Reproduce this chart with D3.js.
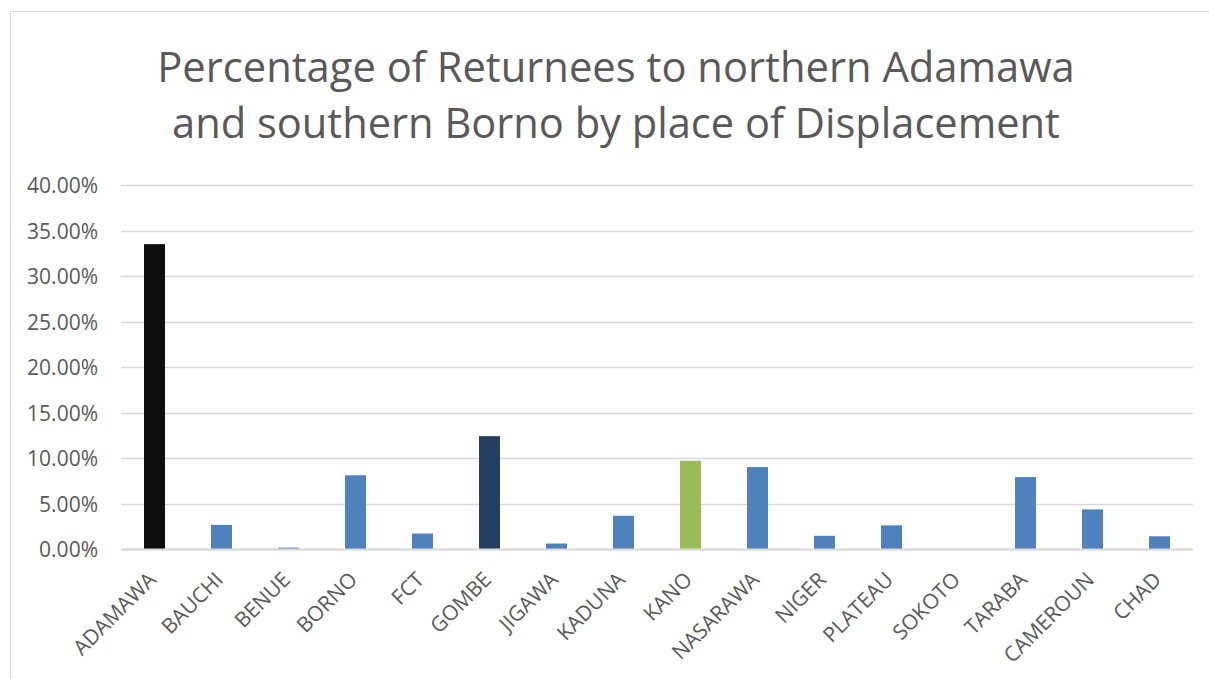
<!DOCTYPE html>
<html>
<head>
<meta charset="utf-8">
<script src="https://cdn.jsdelivr.net/npm/d3@7"></script>
<style>
  body { margin: 0; background: #fff; }
  text { font-family: "Open Sans", "Noto Sans", sans-serif; fill: #595959; }
</style>
</head>
<body>
<div id="chart"></div>
<script>
// data
const states = ["ADAMAWA", "BAUCHI", "BENUE", "BORNO", "FCT", "GOMBE", "JIGAWA", "KADUNA",
  "KANO", "NASARAWA", "NIGER", "PLATEAU", "SOKOTO", "TARABA", "CAMEROUN", "CHAD"];
const shares = [33.5, 2.65, 0.15, 8.1, 1.7, 12.4, 0.6, 3.65, 9.7, 9.0, 1.45, 2.6, 0, 7.9, 4.35, 1.4];
const barColors = ["#0d0d0d", "#4f81bd", "#4f81bd", "#4f81bd", "#4f81bd", "#243f60", "#4f81bd", "#4f81bd",
  "#9bbb59", "#4f81bd", "#4f81bd", "#4f81bd", "#4f81bd", "#4f81bd", "#4f81bd", "#4f81bd"];
const yTicks = [0, 5, 10, 15, 20, 25, 30, 35, 40];
const titleLines = ["Percentage of Returnees to northern Adamawa", "and southern Borno by place of Displacement"];

const W = 1209, H = 679;
const margin = {top: 185, right: 16, bottom: 130, left: 121};
const width = W - margin.left - margin.right,
      height = H - margin.top - margin.bottom;

const svg = d3.select("#chart").append("svg")
  .attr("width", W)
  .attr("height", H);

// chart frame
svg.append("rect")
  .attr("x", 10.5).attr("y", 11.5)
  .attr("width", W + 20).attr("height", H + 20)
  .attr("fill", "#fff")
  .attr("stroke", "#d9d9d9");

// title, two lines, fitted to the width seen in the picture
const title = svg.append("g");
const titleWidths = [918, 888];
titleLines.forEach(function(t, i) {
  const tx = title.append("text")
    .attr("x", 616)
    .attr("y", 82 + i * 56)
    .attr("text-anchor", "middle")
    .style("font-size", "42px")
    .text(t);
  const len = tx.node().getComputedTextLength();
  tx.style("font-size", (42 * titleWidths[i] / len) + "px");
});

const g = svg.append("g")
  .attr("transform", `translate(${margin.left}, ${margin.top})`);

const x = d3.scaleBand()
  .domain(states)
  .range([0, width])
  .paddingInner(0.687)
  .paddingOuter(0.3435);

const y = d3.scaleLinear()
  .domain([0, 40])
  .range([height, 0]);

// gridlines
g.append("g")
  .selectAll("line")
  .data(yTicks)
  .join("line")
    .attr("x1", 0)
    .attr("x2", width)
    .attr("y1", d => Math.round(y(d)) + 0.5)
    .attr("y2", d => Math.round(y(d)) + 0.5)
    .attr("stroke", "#d9d9d9")
    .attr("stroke-width", 1.5);

// y axis labels
const yAxis = g.append("g")
  .call(d3.axisLeft(y).tickValues(yTicks).tickSize(0).tickPadding(23)
    .tickFormat(d => d.toFixed(2) + "%"));
yAxis.select(".domain").remove();
yAxis.selectAll("text")
  .style("font-size", "21px")
  .attr("dy", "0.36em")
  .attr("fill", "#595959");

// bars
g.selectAll("rect.bar")
  .data(states)
  .join("rect")
    .attr("class", "bar")
    .attr("x", d => x(d))
    .attr("width", x.bandwidth())
    .attr("y", (d, i) => y(shares[i]))
    .attr("height", (d, i) => height - y(shares[i]))
    .attr("fill", (d, i) => barColors[i]);

// x axis line
g.append("line")
  .attr("x1", 0).attr("x2", width)
  .attr("y1", height + 0.5).attr("y2", height + 0.5)
  .attr("stroke", "#d9d9d9")
  .attr("stroke-width", 2);

// rotated category labels
g.append("g")
  .selectAll("text")
  .data(states)
  .join("text")
    .attr("transform", d => `translate(${x(d) + x.bandwidth() / 2 + 3}, ${height + 32}) rotate(-45)`)
    .attr("text-anchor", "end")
    .style("font-size", "21px")
    .text(d => d);
</script>
</body>
</html>
